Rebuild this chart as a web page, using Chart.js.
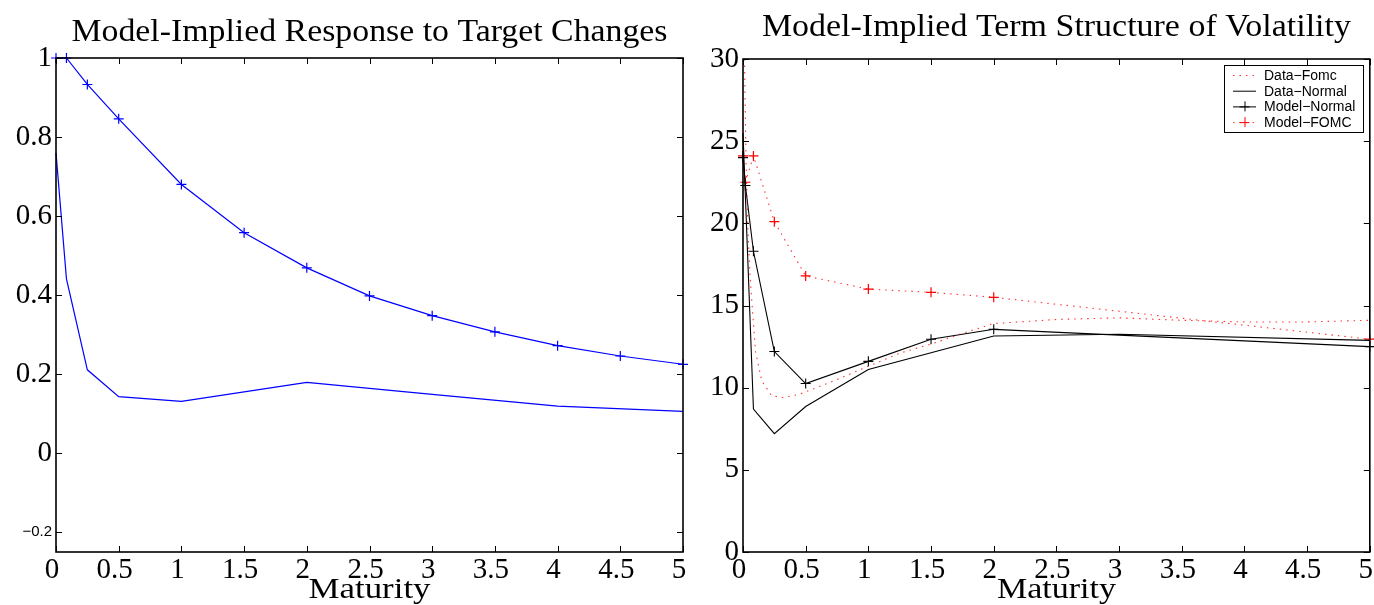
<!DOCTYPE html>
<html>
<head>
<meta charset="utf-8">
<script src="https://cdn.jsdelivr.net/npm/chart.js@4"></script>
<style>
  html, body { margin: 0; padding: 0; background: #fff; }
  body { width: 1374px; height: 605px; position: relative; overflow: hidden; }
  .panel { position: absolute; top: 0; }
</style>
</head>
<body>
<div class="panel" style="left:0px;width:690px;height:605px"><canvas id="left" width="690" height="605"></canvas></div>
<div class="panel" style="left:690px;width:686px;height:605px"><canvas id="right" width="686" height="605"></canvas></div>
<script>
// ---------------- data ----------------
const leftTitle = 'Model-Implied Response to Target Changes';
const rightTitle = 'Model-Implied Term Structure of Volatility';
const xAxisTitle = 'Maturity';

const xTickValues = [0, 0.5, 1, 1.5, 2, 2.5, 3, 3.5, 4, 4.5, 5];
const xTickLabels = ['0', '0.5', '1', '1.5', '2', '2.5', '3', '3.5', '4', '4.5', '5'];

const leftYTickValues = [-0.2, 0, 0.2, 0.4, 0.6, 0.8, 1];
const leftYTickLabels = ['\u22120.2', '0', '0.2', '0.4', '0.6', '0.8', '1'];

const rightYTickValues = [0, 5, 10, 15, 20, 25, 30];
const rightYTickLabels = ['0', '5', '10', '15', '20', '25', '30'];

// left panel
const respMaturities = [0, 1/12, 0.25, 0.5, 1, 1.5, 2, 2.5, 3, 3.5, 4, 4.5, 5];
const respUpper = [1.0, 1.0, 0.933, 0.846, 0.680, 0.558, 0.469, 0.398, 0.348, 0.307, 0.272, 0.246, 0.225];
const respLowerMaturities = [0, 1/12, 0.25, 0.5, 1, 2, 3, 4, 5];
const respLower = [0.76, 0.441, 0.211, 0.143, 0.131, 0.179, 0.149, 0.119, 0.106];

// right panel
const dataFomcMaturities = [0.012, 0.025, 0.04, 0.055, 0.07, 0.1, 0.15, 0.23, 0.32, 0.45, 0.72, 1.0, 1.25, 1.5, 1.75, 2.0, 2.5, 3.0, 3.5, 4.0, 4.5, 5.0];
const dataFomc = [30, 23.5, 19.5, 17.0, 15.3, 12.2, 10.4, 9.5, 9.4, 9.6, 10.4, 11.3, 12.1, 12.65, 13.3, 13.9, 14.15, 14.25, 14.1, 14.0, 14.0, 14.1];
const dataNormalMaturities = [0, 1/12, 0.25, 0.5, 1, 2, 3, 5];
const dataNormal = [25.5, 8.7, 7.2, 8.85, 11.1, 13.14, 13.25, 12.88];
const modelMaturities = [0, 1/52, 1/12, 0.25, 0.5, 1, 1.5, 2, 5];
const modelNormal = [24.0, 22.3, 18.3, 12.2, 10.25, 11.6, 12.95, 13.55, 12.5];
const modelFomc = [24.1, 22.5, 24.1, 20.1, 16.8, 16.0, 15.8, 15.5, 12.95];

const pts = (xs, ys) => xs.map((x, i) => ({x: x, y: ys[i]}));

// ---------------- styling helpers ----------------
const SERIF = '"Liberation Serif", "DejaVu Serif", serif';
const SANS = '"Liberation Sans", Arial, sans-serif';

function stretchText(ctx, text, cx, baseline, font, targetW) {
  ctx.save();
  ctx.font = font;
  const w = ctx.measureText(text).width;
  ctx.translate(cx, baseline);
  ctx.scale(targetW / w, 1);
  ctx.textAlign = 'center';
  ctx.textBaseline = 'alphabetic';
  ctx.fillStyle = '#000';
  ctx.fillText(text, 0, 0);
  ctx.restore();
}

function makeFramePlugin(cfg) {
  return {
    id: 'frame',
    afterDatasetsDraw(chart) {
      const {ctx, chartArea: a, scales} = chart;
      const L = 6;
      ctx.save();
      ctx.strokeStyle = '#000';
      ctx.lineWidth = 1;
      ctx.beginPath();
      scales.x.ticks.forEach(t => {
        const px = Math.round(scales.x.getPixelForValue(t.value)) + 0.5;
        ctx.moveTo(px, a.bottom); ctx.lineTo(px, a.bottom - L);
        ctx.moveTo(px, a.top); ctx.lineTo(px, a.top + L);
      });
      scales.y.ticks.forEach(t => {
        const py = Math.round(scales.y.getPixelForValue(t.value)) + 0.5;
        ctx.moveTo(a.left, py); ctx.lineTo(a.left + L, py);
        ctx.moveTo(a.right, py); ctx.lineTo(a.right - L, py);
      });
      ctx.stroke();
      ctx.lineWidth = 1.6;
      ctx.strokeRect(a.left, a.top, a.right - a.left, a.bottom - a.top);
      ctx.restore();

      const cx = (a.left + a.right) / 2;
      stretchText(ctx, cfg.title, cx, cfg.titleBaseline, '31px ' + SERIF, cfg.titleWidth);
      stretchText(ctx, xAxisTitle, cx, 598, '30px ' + SERIF, cfg.xlabelWidth);

      if (cfg.legend) {
        const lg = cfg.legend;
        ctx.save();
        ctx.fillStyle = '#fff';
        ctx.fillRect(lg.x, lg.y, lg.w, lg.h);
        ctx.strokeStyle = '#000';
        ctx.lineWidth = 1;
        ctx.strokeRect(lg.x + 0.5, lg.y + 0.5, lg.w, lg.h);
        chart.data.datasets.forEach((ds, i) => {
          const yy = lg.y + 10 + i * 15.7;
          const x0 = lg.x + 9, x1 = lg.x + 32;
          ctx.save();
          ctx.strokeStyle = ds.borderColor;
          ctx.lineWidth = 1;
          ctx.setLineDash(ds.borderDash || []);
          ctx.beginPath(); ctx.moveTo(x0, yy + 0.5); ctx.lineTo(x1, yy + 0.5); ctx.stroke();
          ctx.setLineDash([]);
          if (ds.pointRadius > 0) {
            const mx = (x0 + x1) / 2;
            ctx.strokeStyle = ds.pointBorderColor || ds.borderColor;
            ctx.beginPath();
            ctx.moveTo(mx - 5, yy + 0.5); ctx.lineTo(mx + 5, yy + 0.5);
            ctx.moveTo(mx + 0.5, yy - 5); ctx.lineTo(mx + 0.5, yy + 5);
            ctx.stroke();
          }
          ctx.restore();
          ctx.fillStyle = '#000';
          ctx.font = '14px ' + SANS;
          ctx.textBaseline = 'middle';
          ctx.textAlign = 'left';
          ctx.fillText(ds.label, lg.x + 40, yy + 1);
        });
        ctx.restore();
      }
    }
  };
}

function baseScales(yMin, yMax, yVals, yLabels, yWidth, yFontFn) {
  return {
    x: {
      type: 'linear', min: 0, max: 5,
      afterBuildTicks: ax => { ax.ticks = xTickValues.map(v => ({value: v})); },
      afterFit: ax => { ax.height = 53; ax.paddingLeft = 0; ax.paddingRight = 0; },
      grid: {display: false, drawTicks: false}, border: {display: false},
      ticks: {
        color: '#000', padding: 1, maxRotation: 0, autoSkip: false, labelOffset: -4,
        font: {family: SERIF, size: 29},
        callback: (v, i) => xTickLabels[i]
      }
    },
    y: {
      type: 'linear', min: yMin, max: yMax,
      afterBuildTicks: ax => { ax.ticks = yVals.map(v => ({value: v})); },
      afterFit: ax => { ax.width = yWidth; ax.paddingTop = 0; ax.paddingBottom = 0; },
      grid: {display: false, drawTicks: false}, border: {display: false},
      ticks: {
        color: '#000', padding: 4, autoSkip: false,
        font: yFontFn,
        callback: (v, i) => yLabels[i]
      }
    }
  };
}

const common = {
  responsive: false,
  animation: false,
  devicePixelRatio: 1,
  plugins: {legend: {display: false}, title: {display: false}, tooltip: {enabled: false}},
  elements: {line: {tension: 0}}
};

// ---------------- left chart ----------------
new Chart(document.getElementById('left'), {
  type: 'line',
  data: {
    datasets: [
      {label: 'Response', data: pts(respMaturities, respUpper), borderColor: '#0000ff', borderWidth: 1.2,
       pointStyle: 'cross', pointRadius: 5, pointBorderColor: '#0000ff', pointBorderWidth: 1.2, fill: false, clip: false},
      {label: 'Response (low)', data: pts(respLowerMaturities, respLower), borderColor: '#0000ff', borderWidth: 1.2,
       pointRadius: 0, fill: false, clip: false}
    ]
  },
  options: Object.assign({}, common, {
    layout: {padding: {top: 58, right: 7, left: 0, bottom: 0}},
    scales: baseScales(-0.25, 1, leftYTickValues, leftYTickLabels, 56,
      c => (c.index === 0 ? {family: SANS, size: 15} : {family: SERIF, size: 29}))
  }),
  plugins: [makeFramePlugin({title: leftTitle, titleBaseline: 41, titleWidth: 596, xlabelWidth: 122})]
});

// ---------------- right chart ----------------
new Chart(document.getElementById('right'), {
  type: 'line',
  data: {
    datasets: [
      {label: 'Data\u2212Fomc', data: pts(dataFomcMaturities, dataFomc), borderColor: 'rgba(255,0,0,0.8)', borderWidth: 1.1,
       borderDash: [1.5, 5], pointRadius: 0, fill: false, clip: false},
      {label: 'Data\u2212Normal', data: pts(dataNormalMaturities, dataNormal), borderColor: '#000', borderWidth: 1.1,
       pointRadius: 0, fill: false, clip: false},
      {label: 'Model\u2212Normal', data: pts(modelMaturities, modelNormal), borderColor: '#000', borderWidth: 1.1,
       pointStyle: 'cross', pointRadius: 5, pointBorderColor: '#000', pointBorderWidth: 1.1, fill: false, clip: false},
      {label: 'Model\u2212FOMC', data: pts(modelMaturities, modelFomc), borderColor: 'rgba(255,0,0,0.8)', borderWidth: 1.1,
       borderDash: [1.5, 5], pointStyle: 'cross', pointRadius: 5, pointBorderColor: '#ff0000', pointBorderWidth: 1.2,
       fill: false, clip: false}
    ]
  },
  options: Object.assign({}, common, {
    layout: {padding: {top: 59, right: 5, left: 0, bottom: 0}},
    scales: baseScales(0, 30, rightYTickValues, rightYTickLabels, 53, {family: SERIF, size: 29})
  }),
  plugins: [makeFramePlugin({title: rightTitle, titleBaseline: 36, titleWidth: 589, xlabelWidth: 119,
    legend: {x: 1224 - 690, y: 65, w: 139, h: 67}})]
});
</script>
</body>
</html>
